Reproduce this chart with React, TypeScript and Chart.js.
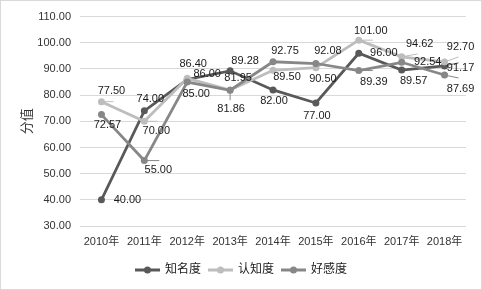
import React, { useEffect, useRef } from "react";
import { Chart, registerables } from "chart.js";

Chart.register(...registerables);

const categories = ["2010年", "2011年", "2012年", "2013年", "2014年", "2015年", "2016年", "2017年", "2018年"];
const seriesNames = ["知名度", "认知度", "好感度"];
const awareness = [40.0, 74.0, 86.0, 89.28, 82.0, 77.0, 96.0, 89.57, 91.17];
const recognition = [77.5, 70.0, 86.4, 81.95, 89.5, 90.5, 101.0, 94.62, 92.7];
const favorability = [72.57, 55.0, 85.0, 81.86, 92.75, 92.08, 89.39, 92.54, 87.69];
const yMin = 30;
const yMax = 110;
const yStep = 10;
const yTitle = "分值";

const COLORS = ["#595959", "#bdbdbd", "#878787"];
const FONT = "'Liberation Sans', 'Noto Sans CJK SC', sans-serif";

// label offsets (style only)
const LABEL_OFFSETS = [
  [[26, 0], [6, -12], [20, -5], [15, -10], [1, 11], [1, 13], [25, 0], [12, 11], [16, 2]],
  [[10, -11], [12, 10], [6, -14], [8, -12], [14, 7], [7, 11], [12, -9], [18, -13], [16, -15]],
  [[6, 10], [14, 9], [9, 12], [1, 19], [12, -11], [12, -13], [15, 11], [26, 0], [16, 14]],
];

// leader line stubs (style only): end offset relative to point, or null
const LEADERS: (number[] | null)[][] = [
  [null, null, null, null, null, null, null, null, [14, -3]],
  [[12, 0], [13, 0], null, null, null, null, [14, 0], [16, -3], [14, -5]],
  [null, [15, 0], null, [0, 10], null, null, [14, 0], null, [14, 3]],
];

const labelPlugin = {
  id: "pointLabels",
  afterDatasetsDraw(chart: any) {
    const ctx = chart.ctx;
    ctx.save();
    chart.data.datasets.forEach((ds: any, di: number) => {
      const meta = chart.getDatasetMeta(di);
      ctx.strokeStyle = COLORS[di];
      ctx.lineWidth = 1;
      meta.data.forEach((pt: any, i: number) => {
        const l = LEADERS[di][i];
        if (!l) return;
        ctx.beginPath();
        ctx.moveTo(pt.x, pt.y);
        ctx.lineTo(pt.x + l[0], pt.y + l[1]);
        ctx.stroke();
      });
    });
    ctx.font = `11px ${FONT}`;
    ctx.fillStyle = "#1a1a1a";
    ctx.textAlign = "center";
    ctx.textBaseline = "middle";
    chart.data.datasets.forEach((ds: any, di: number) => {
      const meta = chart.getDatasetMeta(di);
      meta.data.forEach((pt: any, i: number) => {
        const off = LABEL_OFFSETS[di][i] || [0, -10];
        ctx.fillText(Number(ds.data[i]).toFixed(2), pt.x + off[0], pt.y + off[1]);
      });
    });
    ctx.restore();
  },
};

const legendPlugin = {
  id: "customLegend",
  afterDraw(chart: any) {
    const ctx = chart.ctx;
    ctx.save();
    ctx.font = `12px ${FONT}`;
    const lineLen = 25;
    const gapText = 5;
    const gapItem = 7;
    const widths = seriesNames.map((n) => ctx.measureText(n).width);
    const total = widths.reduce((a, w) => a + lineLen + gapText + w, 0) + gapItem * (seriesNames.length - 1);
    let x = chart.width / 2 - total / 2;
    const y = 269;
    seriesNames.forEach((name, i) => {
      ctx.strokeStyle = COLORS[i];
      ctx.lineWidth = 3;
      ctx.beginPath();
      ctx.moveTo(x, y);
      ctx.lineTo(x + lineLen, y);
      ctx.stroke();
      ctx.fillStyle = COLORS[i];
      ctx.beginPath();
      ctx.arc(x + lineLen / 2, y, 3.5, 0, Math.PI * 2);
      ctx.fill();
      ctx.fillStyle = "#1a1a1a";
      ctx.textAlign = "left";
      ctx.textBaseline = "middle";
      ctx.fillText(name, x + lineLen + gapText, y);
      x += lineLen + gapText + widths[i] + gapItem;
    });
    ctx.restore();
  },
};

export default function App() {
  const ref = useRef<HTMLCanvasElement | null>(null);
  useEffect(() => {
    document.body.style.margin = "0";
    if (!ref.current) return;
    const series = [awareness, recognition, favorability];
    const chart = new Chart(ref.current, {
      type: "line",
      data: {
        labels: categories,
        datasets: series.map((d, i) => ({
          label: seriesNames[i],
          data: d,
          borderColor: COLORS[i],
          backgroundColor: COLORS[i],
          pointBackgroundColor: COLORS[i],
          pointBorderColor: COLORS[i],
          borderWidth: 2.75,
          pointRadius: 3.5,
          pointBorderWidth: 0,
          tension: 0,
          order: 2 - i,
        })),
      },
      options: {
        responsive: false,
        animation: false,
        events: [],
        layout: { padding: { top: 14, right: 15, left: 0, bottom: 0 } },
        plugins: {
          legend: { display: false },
          tooltip: { enabled: false },
        },
        scales: {
          x: {
            type: "category",
            offset: true,
            grid: { display: false, drawTicks: false },
            border: { display: false },
            ticks: {
              padding: 9,
              color: "#333333",
              font: { family: FONT, size: 11 },
              maxRotation: 0,
              autoSkip: false,
            },
            afterFit(scale: any) {
              scale.height = 63;
            },
          },
          y: {
            min: yMin,
            max: yMax,
            grid: { color: "#d9d9d9", lineWidth: 1, drawTicks: false },
            border: { display: false },
            ticks: {
              stepSize: yStep,
              padding: 9,
              color: "#333333",
              font: { family: FONT, size: 11 },
              callback: (v: any) => Number(v).toFixed(2),
            },
            title: {
              display: true,
              text: yTitle,
              color: "#333333",
              font: { family: FONT, size: 13 },
              padding: { top: 19, bottom: 0 },
            },
            afterFit(scale: any) {
              scale.width = 79;
            },
          },
        },
      },
      plugins: [labelPlugin, legendPlugin],
    });
    return () => chart.destroy();
  }, []);
  return (
    <div
      style={{
        width: 482,
        height: 290,
        boxSizing: "border-box",
        border: "1px solid #d9d9d9",
        background: "#ffffff",
      }}
    >
      <canvas ref={ref} width={480} height={288} style={{ display: "block" }} />
    </div>
  );
}
